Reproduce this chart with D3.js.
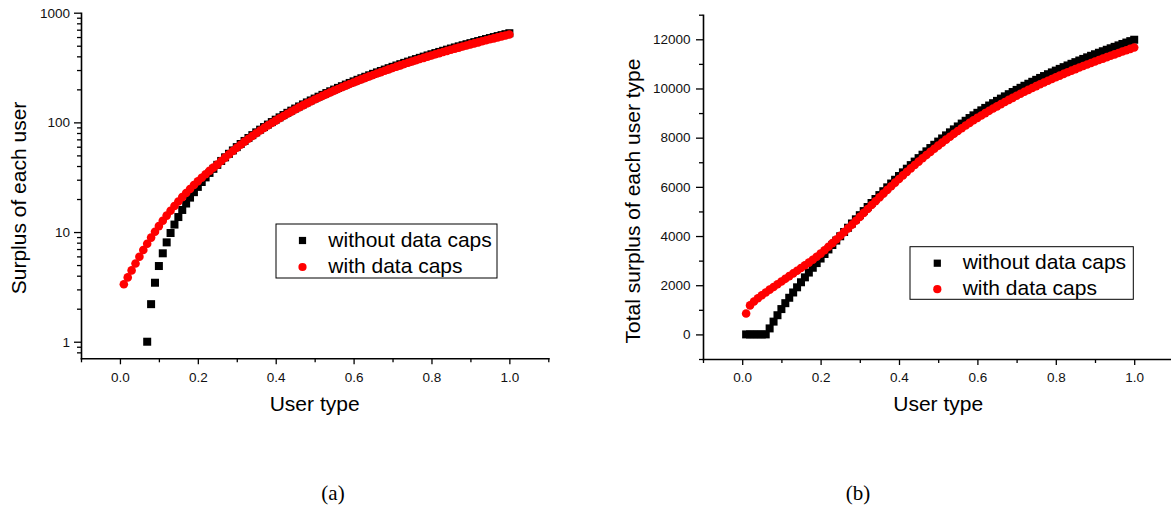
<!DOCTYPE html>
<html><head><meta charset="utf-8">
<script src="https://cdn.jsdelivr.net/npm/d3@7"></script>
<style>
body{margin:0;background:#fff}
svg text{fill:#000}
</style>
</head><body>
<svg id="chart" width="1171" height="514"></svg>
<script>
// ---------------- data ----------------
const userType = [0.01,0.02,0.03,0.04,0.05,0.06,0.07,0.08,0.09,0.10,
0.11,0.12,0.13,0.14,0.15,0.16,0.17,0.18,0.19,0.20,
0.21,0.22,0.23,0.24,0.25,0.26,0.27,0.28,0.29,0.30,
0.31,0.32,0.33,0.34,0.35,0.36,0.37,0.38,0.39,0.40,
0.41,0.42,0.43,0.44,0.45,0.46,0.47,0.48,0.49,0.50,
0.51,0.52,0.53,0.54,0.55,0.56,0.57,0.58,0.59,0.60,
0.61,0.62,0.63,0.64,0.65,0.66,0.67,0.68,0.69,0.70,
0.71,0.72,0.73,0.74,0.75,0.76,0.77,0.78,0.79,0.80,
0.81,0.82,0.83,0.84,0.85,0.86,0.87,0.88,0.89,0.90,
0.91,0.92,0.93,0.94,0.95,0.96,0.97,0.98,0.99,1.00];

// (a) surplus of each user (log axis); null = zero, not shown on log scale
const surplusWithoutCaps = [null,null,null,null,null,null,1.0,2.2,3.45,4.9,
6.4,8.05,9.8,11.7,13.7,15.9,18.2,20.6,23.1,25.8,
28.6,31.5,34.6,37.7,41.0,44.5,48.0,51.7,55.5,59.5,
63.5,67.7,72.0,76.5,81.1,85.8,90.6,95.5,100.6,105.8,
111.1,116.6,122.2,127.9,133.7,139.7,145.8,152.0,158.4,164.8,
171.4,178.2,185.0,192.0,199.1,206.3,213.7,221.2,228.8,236.5,
244.4,252.4,260.5,268.7,277.1,285.6,294.2,303.0,311.9,320.9,
330.0,339.3,348.7,358.2,367.8,377.6,387.5,397.5,407.6,417.9,
428.3,438.8,449.5,460.3,471.2,482.2,493.4,504.7,516.1,527.6,
539.3,551.1,563.0,575.1,587.2,599.5,612.0,624.5,637.2,650.0];

const surplusWithCaps = [3.34,3.86,4.47,5.17,5.96,6.85,7.83,8.90,10.07,11.33,
12.68,14.12,15.66,17.28,19.01,20.82,22.73,24.72,26.82,29.0,
31.28,33.65,36.11,38.66,41.2,44.4,47.7,51.2,54.8,58.6,
62.6,66.7,70.9,75.2,79.7,84.3,89.0,93.8,98.8,103.8,
109.0,114.4,119.8,125.4,131.1,136.9,142.8,148.9,155.0,161.4,
167.8,174.3,181.0,187.8,194.7,201.8,208.9,216.2,223.6,231.1,
238.8,246.6,254.4,262.5,270.6,278.9,287.2,295.7,304.4,313.1,
322.0,331.0,340.2,349.4,358.8,368.3,377.9,387.6,397.5,407.4,
417.5,427.7,438.1,448.5,459.1,469.9,480.7,491.6,502.7,514.0,
525.3,536.7,548.3,560.1,571.8,583.8,595.9,608.1,620.4,632.9];

// (b) total surplus of each user type
const totalWithoutCaps = [0,0,0,0,0,0,244,520,780,1030,
1270,1490,1705,1915,2120,2320,2515,2710,2900,3085,
3270,3455,3635,3815,3990,4165,4338,4510,4680,4848,
5015,5180,5343,5505,5665,5823,5980,6135,6288,6440,
6590,6738,6884,7027,7168,7307,7444,7578,7710,7840,
7968,8093,8216,8337,8456,8572,8686,8798,8908,9010,
9111,9210,9307,9402,9496,9588,9679,9768,9856,9942,
10027,10110,10192,10272,10351,10429,10505,10580,10654,10726,
10797,10867,10936,11004,11071,11137,11202,11266,11329,11391,
11453,11514,11574,11634,11693,11752,11810,11868,11925,11982];

const totalWithCaps = [850,1180,1340,1470,1590,1705,1820,1930,2040,2150,
2260,2370,2480,2590,2700,2810,2920,3035,3155,3285,
3425,3565,3710,3860,4010,4160,4310,4462,4620,4780,
4942,5102,5259,5416,5571,5724,5876,6025,6173,6320,
6465,6609,6750,6889,7025,7160,7292,7422,7549,7675,
7799,7920,8039,8156,8271,8383,8493,8601,8707,8805,
8902,8998,9091,9183,9273,9362,9449,9535,9619,9702,
9784,9864,9943,10020,10096,10171,10244,10316,10387,10456,
10524,10592,10658,10724,10788,10852,10914,10976,11036,11096,
11156,11215,11273,11331,11388,11445,11501,11557,11612,11667];

const seriesNames = ["without data caps","with data caps"];
const xMajorTicks = [0.0,0.2,0.4,0.6,0.8,1.0];
const xMinorTicks = [-0.1,0.1,0.3,0.5,0.7,0.9,1.1];
const leftMajorTicks = [1,10,100,1000];
const leftMinorTicks = [0.8,0.9,2,3,4,5,6,7,8,9,20,30,40,50,60,70,80,90,200,300,400,500,600,700,800,900];
const rightMajorTicks = [0,2000,4000,6000,8000,10000,12000];
const rightMinorTicks = [-1000,1000,3000,5000,7000,9000,11000,13000];
const xTitle = "User type";
const leftYTitle = "Surplus of each user";
const rightYTitle = "Total surplus of each user type";
const panelLabels = ["(a)","(b)"];

// ---------------- drawing ----------------
const SANS = '"Liberation Sans", Arial, sans-serif';
const SERIF = '"Liberation Serif", "Times New Roman", serif';
const svg = d3.select("#chart");
svg.append("rect").attr("width",1171).attr("height",514).attr("fill","#fff");

function zip(a){ return userType.map((t,i)=>({x:t,y:a[i]})).filter(d=>d.y!==null && d.y!==undefined); }

function panel(cfg){
  const g = svg.append("g");
  const x = d3.scaleLinear().domain([-0.1,1.1]).range(cfg.xRange);
  const y = cfg.y;
  const y0 = y.range()[0];
  const x0 = x.range()[0];

  const xmin = g.append("g").attr("transform",`translate(0,${y0})`)
    .call(d3.axisBottom(x).tickValues(xMinorTicks).tickSize(4).tickSizeOuter(0).tickFormat(""));
  xmin.select(".domain").remove();
  const xmaj = g.append("g").attr("transform",`translate(0,${y0})`)
    .call(d3.axisBottom(x).tickValues(xMajorTicks).tickSize(6).tickSizeOuter(0).tickFormat(d3.format(".1f")));
  xmaj.selectAll("text").attr("y",23.4).attr("dy",0).style("font-size","13.5px").style("font-family",SANS).style("fill","#111");

  const ymin = g.append("g").attr("transform",`translate(${x0},0)`)
    .call(d3.axisLeft(y).tickValues(cfg.yMinor).tickSize(4).tickSizeOuter(0).tickFormat(""));
  ymin.select(".domain").remove();
  const ymaj = g.append("g").attr("transform",`translate(${x0},0)`)
    .call(d3.axisLeft(y).tickValues(cfg.yMajor).tickSize(7).tickSizeOuter(0).tickPadding(cfg.yPad).tickFormat(cfg.yFmt));
  ymaj.selectAll("text").style("font-size","13.5px").style("font-family",SANS).style("fill","#111");

  g.selectAll(".domain").attr("stroke-width",1.6).attr("stroke-linecap","square").attr("stroke","#000");
  g.selectAll(".tick line").attr("stroke-width",1.3).attr("stroke","#000");

  const blk = zip(cfg.black), red = zip(cfg.red);
  g.append("g").selectAll("rect").data(blk).join("rect")
    .attr("x",d=>x(d.x)-4).attr("y",d=>y(d.y)-4).attr("width",8).attr("height",8).attr("fill","#000");
  g.append("g").selectAll("circle").data(red).join("circle")
    .attr("cx",d=>x(d.x)).attr("cy",d=>y(d.y)).attr("r",4.3).attr("fill","#ff0000");

  g.append("text").attr("x",(cfg.xRange[0]+cfg.xRange[1])/2).attr("y",411)
    .attr("text-anchor","middle").style("font-size","21px").style("font-family",SANS).text(xTitle);
  g.append("text").attr("transform",`translate(${cfg.yTitleX},${cfg.yTitleY}) rotate(-90)`)
    .attr("text-anchor","middle").style("font-size","21px").style("font-family",SANS).text(cfg.yTitle);

  const L = cfg.legend;
  g.append("rect").attr("x",L.x).attr("y",L.y).attr("width",L.w).attr("height",L.h)
    .attr("fill","#fff").attr("stroke","#000").attr("stroke-width",1);
  seriesNames.forEach((name,i)=>{
    const cy = L.y + L.m0 + i*L.dy;
    if(i===0) g.append("rect").attr("x",L.mx-3.6).attr("y",cy-3.6).attr("width",7.2).attr("height",7.2).attr("fill","#000");
    else g.append("circle").attr("cx",L.mx).attr("cy",cy).attr("r",4.1).attr("fill","#ff0000");
    g.append("text").attr("x",L.tx).attr("y",cy+6).style("font-size","21px").style("font-family",SANS).text(name);
  });

  g.append("text").attr("x",cfg.labelX).attr("y",500).attr("text-anchor","middle")
    .style("font-size","21px").style("font-family",SERIF).text(cfg.label);
}

panel({
  xRange:[81,548.3],
  y: d3.scaleLog().domain([0.706,1000]).range([358.3,12.7]),
  yMajor:leftMajorTicks, yMinor:leftMinorTicks, yPad:4, yFmt:d3.format("d"),
  black:surplusWithoutCaps, red:surplusWithCaps,
  yTitle:leftYTitle, yTitleX:26, yTitleY:198,
  legend:{x:276,y:224,w:221,h:54,m0:16.5,dy:26.5,mx:302.5,tx:328.3},
  label:panelLabels[0], labelX:333
});
panel({
  xRange:[703,1173.4],
  y: d3.scaleLinear().domain([-1000,13000]).range([359,14.7]),
  yMajor:rightMajorTicks, yMinor:rightMinorTicks, yPad:5.5, yFmt:d3.format("d"),
  black:totalWithoutCaps, red:totalWithCaps,
  yTitle:rightYTitle, yTitleX:640, yTitleY:201,
  legend:{x:910,y:246.7,w:223.3,h:52.6,m0:16.5,dy:26,mx:937.3,tx:962.7},
  label:panelLabels[1], labelX:858
});
</script>
</body></html>
